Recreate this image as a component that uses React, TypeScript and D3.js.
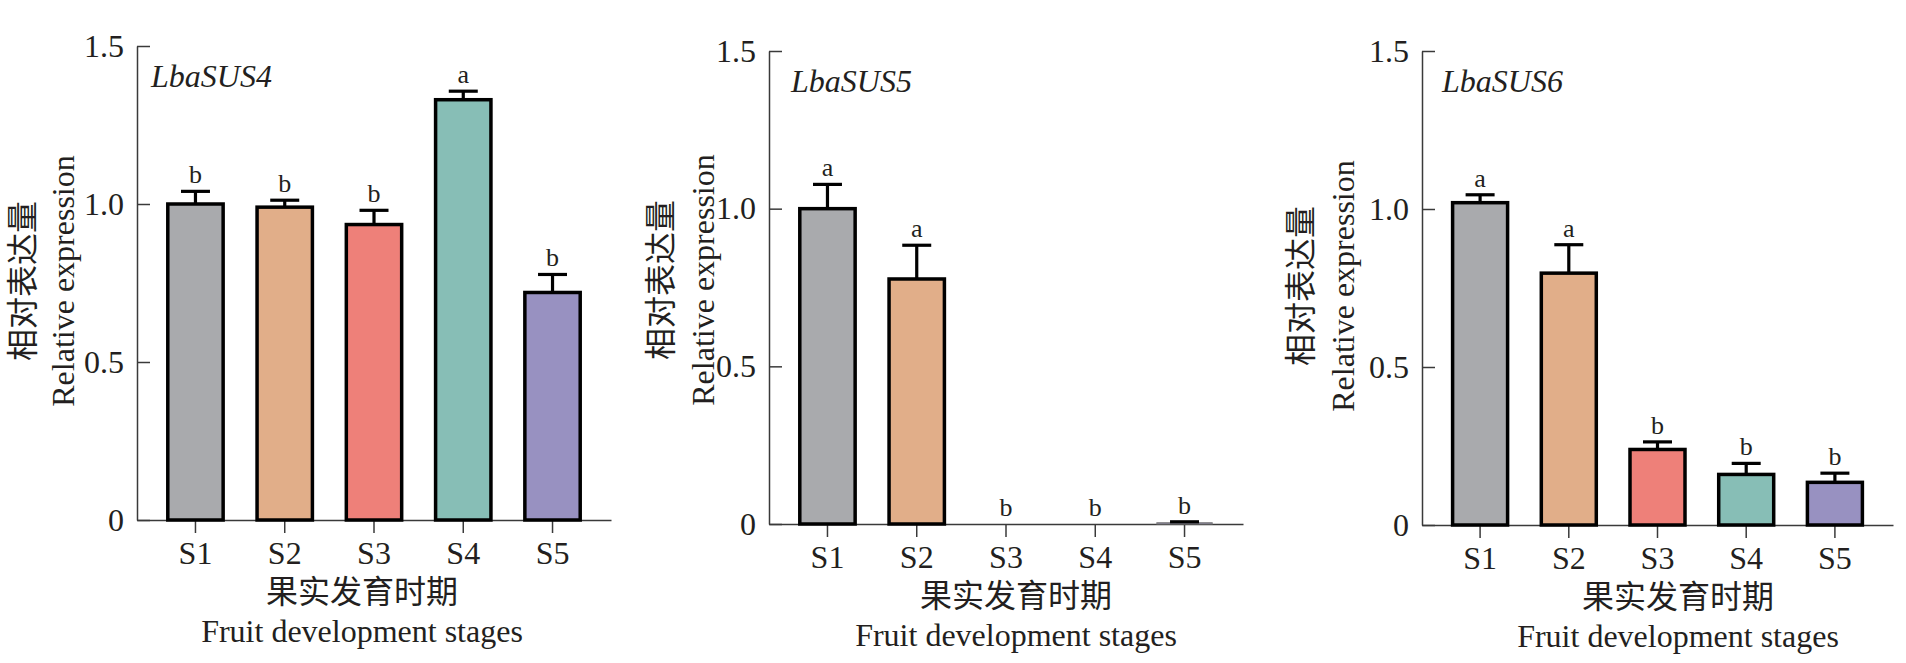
import * as React from 'react';
import * as d3 from 'd3';

// stages and colours shared by the three genes
const stages = ['S1', 'S2', 'S3', 'S4', 'S5'];
const stageColors = ['#A9AAAD', '#E1AE89', '#EE8079', '#87BEB6', '#9891C1'];
const yTicks = [0, 0.5, 1.0, 1.5];

const genes = ['LbaSUS4', 'LbaSUS5', 'LbaSUS6'];

const sus4Mean = [1.0, 0.99, 0.935, 1.33, 0.72];
const sus4Err = [0.04, 0.022, 0.045, 0.027, 0.057];
const sus4Sig = ['b', 'b', 'b', 'a', 'b'];

const sus5Mean = [1.0, 0.777, 0, 0, 0.004];
const sus5Err = [0.077, 0.107, 0, 0, 0.003];
const sus5Sig = ['a', 'a', 'b', 'b', 'b'];

const sus6Mean = [1.02, 0.797, 0.239, 0.16, 0.135];
const sus6Err = [0.025, 0.09, 0.024, 0.035, 0.029];
const sus6Sig = ['a', 'a', 'b', 'b', 'b'];

const yTitleZh = '相对表达量';
const yTitleEn = 'Relative expression';
const xTitleZh = '果实发育时期';
const xTitleEn = 'Fruit development stages';

const series = [
  { mean: sus4Mean, err: sus4Err, sig: sus4Sig },
  { mean: sus5Mean, err: sus5Err, sig: sus5Sig },
  { mean: sus6Mean, err: sus6Err, sig: sus6Sig },
];

// where each panel sits on the page
const layout = [
  { x0: 137, x1: 611, top: 46, base: 520, tcx: 362, gx: 14, enX: 74, zhX: 34, ycy: 281 },
  { x0: 769, x1: 1243, top: 51, base: 524, tcx: 1016, gx: 22, enX: 714, zhX: 672, ycy: 280 },
  { x0: 1422, x1: 1893, top: 51, base: 525, tcx: 1678, gx: 20, enX: 1354, zhX: 1312, ycy: 286 },
];

const SERIF = '"Liberation Serif", "Times New Roman", serif';
const CJK = '"Noto Sans CJK SC", sans-serif';

export default function App() {
  const svgRef = React.useRef<SVGSVGElement>(null);

  React.useEffect(() => {
    const svg = d3.select(svgRef.current);
    svg.selectAll('*').remove();

    series.forEach((s, k) => {
      const L = layout[k];
      const data = stages.map((st, i) => ({
        stage: st, mean: s.mean[i], err: s.err[i], sig: s.sig[i], color: stageColors[i],
      }));

      const x = d3.scaleBand()
        .domain(stages)
        .range([L.x0, L.x1])
        .paddingInner(0.38)
        .paddingOuter(0.345);
      const y = d3.scaleLinear().domain([0, 1.5]).range([L.base, L.top]);

      const g = svg.append('g');

      const yAxis = d3.axisLeft(y)
        .tickValues(yTicks)
        .tickSizeInner(-13)
        .tickSizeOuter(0)
        .tickPadding(13)
        .tickFormat((d) => (+d === 0 ? '0' : d3.format('.1f')(+d)));
      const gy = g.append('g')
        .attr('transform', `translate(${L.x0},0)`)
        .call(yAxis);

      const xAxis = d3.axisBottom(x)
        .tickSizeInner(13)
        .tickSizeOuter(0)
        .tickPadding(8);
      const gx = g.append('g')
        .attr('transform', `translate(0,${L.base})`)
        .call(xAxis);

      [gy, gx].forEach((a) => {
        a.attr('font-size', 32).attr('font-family', SERIF).style('color', '#3a3a3a');
        a.selectAll('path, line').attr('stroke-width', 1.5);
        a.selectAll('text').attr('fill', '#231f20');
      });

      // bars
      g.selectAll('rect.bar')
        .data(data)
        .enter()
        .append('rect')
        .attr('class', 'bar')
        .attr('x', (d) => x(d.stage) as number)
        .attr('width', x.bandwidth())
        .attr('y', (d) => y(d.mean))
        .attr('height', (d) => L.base - y(d.mean))
        .attr('fill', (d) => d.color)
        .attr('stroke', (d) => (L.base - y(d.mean) > 3 ? '#000' : '#777'))
        .attr('stroke-width', (d) => (L.base - y(d.mean) > 3 ? 3.5 : d.mean > 0 ? 1 : 0));

      // error bars (upper only)
      const eb = g.selectAll('g.err')
        .data(data.filter((d) => d.err > 0))
        .enter()
        .append('g')
        .attr('class', 'err')
        .attr('stroke', '#000')
        .attr('stroke-width', 3.2);
      eb.append('line')
        .attr('x1', (d) => (x(d.stage) as number) + x.bandwidth() / 2)
        .attr('x2', (d) => (x(d.stage) as number) + x.bandwidth() / 2)
        .attr('y1', (d) => y(d.mean))
        .attr('y2', (d) => y(d.mean + d.err));
      eb.append('line')
        .attr('x1', (d) => (x(d.stage) as number) + x.bandwidth() / 2 - 14.5)
        .attr('x2', (d) => (x(d.stage) as number) + x.bandwidth() / 2 + 14.5)
        .attr('y1', (d) => y(d.mean + d.err))
        .attr('y2', (d) => y(d.mean + d.err));

      // significance letters
      g.selectAll('text.sig')
        .data(data)
        .enter()
        .append('text')
        .attr('class', 'sig')
        .attr('x', (d) => (x(d.stage) as number) + x.bandwidth() / 2)
        .attr('y', (d) => y(d.mean + d.err) - 8)
        .attr('text-anchor', 'middle')
        .attr('font-family', SERIF)
        .attr('font-size', 26)
        .attr('fill', '#231f20')
        .text((d) => d.sig);

      // gene name
      g.append('text')
        .attr('x', L.x0 + L.gx)
        .attr('y', L.top + 41)
        .attr('font-family', SERIF)
        .attr('font-style', 'italic')
        .attr('font-size', 32)
        .attr('fill', '#231f20')
        .text(genes[k]);

      // y titles
      g.append('text')
        .attr('transform', `translate(${L.zhX},${L.ycy}) rotate(-90)`)
        .attr('text-anchor', 'middle')
        .attr('font-family', CJK)
        .attr('font-size', 32)
        .attr('fill', '#231f20')
        .text(yTitleZh);
      g.append('text')
        .attr('transform', `translate(${L.enX},${L.ycy}) rotate(-90)`)
        .attr('text-anchor', 'middle')
        .attr('font-family', SERIF)
        .attr('font-size', 32)
        .attr('fill', '#231f20')
        .text(yTitleEn);

      // x titles
      g.append('text')
        .attr('x', L.tcx)
        .attr('y', L.base + 83)
        .attr('text-anchor', 'middle')
        .attr('font-family', CJK)
        .attr('font-size', 32)
        .attr('fill', '#231f20')
        .text(xTitleZh);
      g.append('text')
        .attr('x', L.tcx)
        .attr('y', L.base + 122)
        .attr('text-anchor', 'middle')
        .attr('font-family', SERIF)
        .attr('font-size', 32)
        .attr('fill', '#231f20')
        .text(xTitleEn);
    });
  }, []);

  return (
    <svg
      ref={svgRef}
      width={1906}
      height={663}
      style={{ position: 'absolute', left: 0, top: 0, background: '#fff' }}
    />
  );
}
